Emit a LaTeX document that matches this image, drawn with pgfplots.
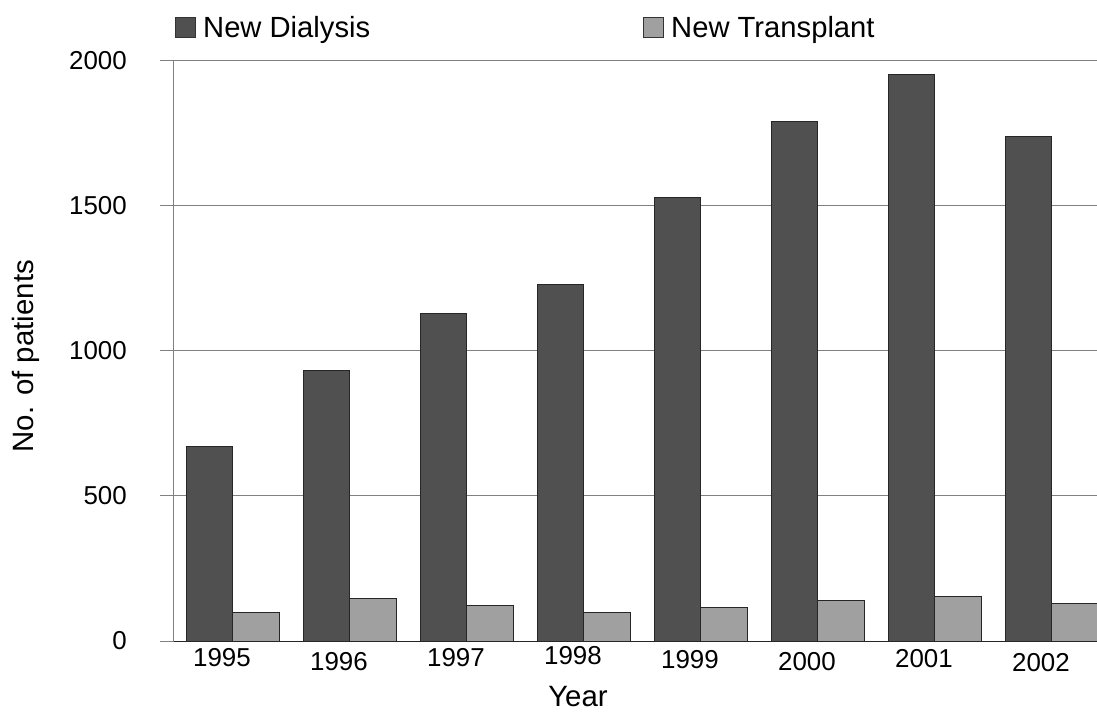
\documentclass[border=0pt]{standalone}
\usepackage{pgfplots}
\pgfplotsset{compat=1.18}
\usepackage{fontspec}
\setmainfont{Liberation Sans}
\definecolor{dial}{HTML}{505050}
\definecolor{trans}{HTML}{A0A0A0}
\newcommand{\lb}[2]{\raisebox{-#1}[19bp][0bp]{#2}}
\begin{document}
\begin{tikzpicture}
\path[use as bounding box] (-174bp,-73bp) rectangle (923bp,641bp);
\begin{axis}[
  scale only axis, width=923bp, height=580bp,
  at={(0,0)}, anchor=south west,
  xmin=-0.504, xmax=7.385, ymin=0, ymax=2000,
  ybar=0pt, bar width=0.4,
  axis x line*=bottom, axis y line*=left,
  x axis line style={draw=black!85, line width=1bp},
  y axis line style={draw=gray, line width=1bp},
  xtick={0,...,7},
  xticklabels={\lb{-2bp}{1995},\lb{2bp}{1996},\lb{-2bp}{1997},\lb{-4bp}{1998},\lb{0bp}{1999},\lb{2bp}{2000},\lb{-1bp}{2001},\lb{3bp}{2002}},
  xtick style={draw=none},
  ytick={0,500,1000,1500,2000},
  yticklabels={0\hspace{-6bp},500\hspace{-1bp},1000,1500,2000},
  tick align=outside, major tick length=14bp,
  ytick style={draw=gray, line width=1bp},
  ymajorgrids, grid style={draw=gray, line width=1bp},
  tick label style={font=\fontsize{26}{26}\selectfont, inner sep=0pt},
  xticklabel style={anchor=north, xshift=-11bp, yshift=6bp},
  yticklabel style={anchor=east, xshift=-33bp},
  xlabel={Year}, ylabel={No. of patients},
  label style={font=\fontsize{29.5}{29.5}\selectfont, inner sep=0pt},
  xlabel style={at={(axis description cs:0.4377,0)}, anchor=center, yshift=-56bp},
  ylabel style={at={(axis description cs:-0.160,0.491)}, anchor=center},
  legend columns=2,
  legend style={at={(axis description cs:0,1)}, anchor=south west, xshift=-2bp, yshift=20bp,
    draw=none, fill=none, font=\fontsize{29.3}{29.3}\selectfont,
    nodes={inner sep=0pt}, /tikz/every even column/.append style={column sep=273bp}},
  legend image code/.code={\draw[#1, draw=black!80, line width=1bp] (0bp,-10bp) rectangle (20bp,10bp);},
  legend cell align=left,
]
\addplot[fill=dial, draw=black!85, line width=1bp, bar shift=-0.2] coordinates {
 (0,672) (1,934) (2,1131) (3,1228) (4,1528) (5,1790) (6,1952) (7,1738)};
\addplot[fill=trans, draw=black!85, line width=1bp, bar shift=0.2] coordinates {
 (0,100) (1,145) (2,124) (3,97) (4,117) (5,141) (6,152) (7,131)};
\legend{\hspace{7bp}New Dialysis, \hspace{7bp}New Transplant}
\end{axis}
\end{tikzpicture}
\end{document}
